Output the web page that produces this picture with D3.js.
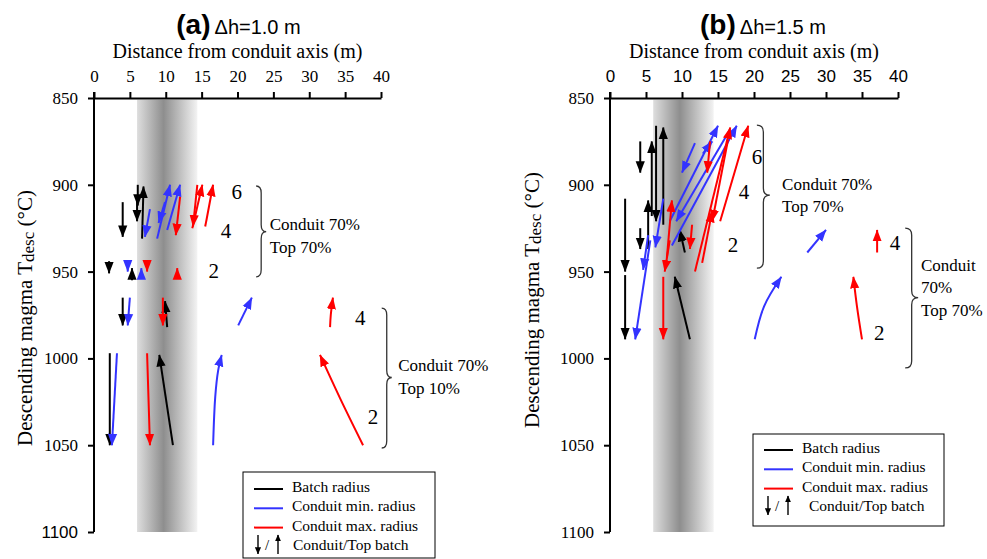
<!DOCTYPE html>
<html>
<head>
<meta charset="utf-8">
<script src="https://cdn.jsdelivr.net/npm/d3@7"></script>
<style>
  body { margin: 0; background: #fff; }
  svg { display: block; }
</style>
</head>
<body>
<div id="chart"></div>
<script>
var SERIF = '"Liberation Serif", "Times New Roman", serif';
var SANS = '"Liberation Sans", Arial, Helvetica, sans-serif';

// axis ticks
var xTicks = [0, 5, 10, 15, 20, 25, 30, 35, 40];
var yTicks = [850, 900, 950, 1000, 1050, 1100];
var conduitBand = [6, 14.4]; // shaded conduit zone (m)

// arrows, each one a list of [distance (m), T (°C)], drawn from first point to last
// panel (a) dh = 1.0 m
var batchA = [
  [[4.0, 910], [4.0, 930]],
  [[6.1, 900], [6.1, 912]],
  [[6.0, 909], [6.0, 921]],
  [[6.7, 931], [6.9, 901]],
  [[2.1, 944], [2.1, 951]],
  [[5.3, 955], [5.3, 948]],
  [[4.0, 965], [4.0, 981]],
  [[10.2, 982], [9.9, 967]],
  [[2.2, 997], [2.2, 1050]],
  [[11.0, 1050], [9.1, 998]]
];
var minA = [
  [[7.8, 914], [7.1, 930]],
  [[8.8, 931], [10.6, 900]],
  [[9.9, 910], [9.0, 922]],
  [[10.2, 926], [12.0, 900]],
  [[4.7, 944], [4.7, 950]],
  [[6.6, 954], [6.6, 948]],
  [[5.0, 965], [4.7, 981]],
  [[20.1, 981], [22.0, 965]],
  [[3.2, 997], [2.5, 1050]],
  [[16.6, 1050], [16.9, 1022], [17.3, 1007], [17.8, 998]]
];
var maxA = [
  [[12.0, 907], [11.4, 929]],
  [[14.4, 900], [13.8, 924]],
  [[13.7, 925], [15.1, 900]],
  [[15.5, 924], [16.6, 900]],
  [[7.4, 944], [7.4, 950]],
  [[11.6, 954], [11.6, 948]],
  [[9.6, 965], [9.6, 981]],
  [[32.9, 982], [33.0, 975], [33.3, 965]],
  [[7.4, 997], [7.8, 1050]],
  [[37.5, 1050], [34.3, 1023], [31.5, 998]]
];
// panel (b) dh = 1.5 m
var batchB = [
  [[4.2, 875], [4.2, 893]],
  [[5.8, 918], [5.8, 875]],
  [[7.4, 923], [7.4, 867]],
  [[6.4, 866], [6.4, 921]],
  [[2.1, 908], [2.1, 950]],
  [[2.1, 952], [2.1, 989]],
  [[4.2, 925], [4.2, 937]],
  [[5.3, 937], [5.3, 909]],
  [[11.1, 989], [9.0, 953]],
  [[10.4, 939], [9.7, 926]]
];
var minB = [
  [[11.8, 876], [10.0, 893]],
  [[8.3, 921], [15.0, 866]],
  [[8.6, 935], [17.6, 866]],
  [[16.7, 868], [9.2, 921]],
  [[12.9, 882], [14.2, 875]],
  [[7.4, 908], [6.3, 936]],
  [[5.6, 932], [3.5, 989]],
  [[5.3, 929], [4.6, 949]],
  [[20.1, 989], [21.4, 970], [23.8, 953]],
  [[27.4, 939], [30.0, 926]]
];
var maxB = [
  [[13.9, 875], [13.5, 893]],
  [[11.8, 950], [16.7, 867]],
  [[15.3, 921], [19.2, 866]],
  [[16.4, 874], [14.2, 921]],
  [[7.9, 942], [8.6, 909]],
  [[11.4, 923], [11.1, 937]],
  [[12.8, 945], [14.2, 915]],
  [[8.3, 932], [7.6, 950]],
  [[7.4, 953], [7.4, 989]],
  [[35.0, 989], [34.3, 970], [33.8, 953]],
  [[37.1, 939], [37.1, 926]]
];

// step labels [text, x, T]
var stepsA = [["6", 19.9, 904], ["4", 18.4, 926.6], ["2", 16.7, 949.6], ["4", 37.1, 976.7], ["2", 38.9, 1034]];
var stepsB = [["6", 20.4, 884], ["4", 18.6, 904], ["2", 17.1, 934.7], ["4", 39.6, 933.5], ["2", 37.4, 985.4]];
// braces [xLeft, xTip, Ttop, Tbottom, Ttip] and their case labels
var bracesA = [[22.6, 24.0, 900.7, 953, 927], [40.1, 41.5, 971, 1051.6, 1011]];
var bracesB = [[20.4, 22.2, 865.6, 948, 906], [41.0, 42.8, 925, 1005.5, 965]];
var casesA = [[["Conduit 70%", "Top 70%"], 24.5, 922.6], [["Conduit 70%", "Top 10%"], 42.4, 1004]];
var casesB = [[["Conduit 70%", "Top 70%"], 23.9, 899.5], [["Conduit", "70%", "Top 70%"], 43.2, 946]];

var legendNames = ["Batch radius", "Conduit min. radius", "Conduit max. radius"];
var colors = ["#000000", "#3333ff", "#ff0000"];

var W = 987, H = 559;
var svg = d3.select("#chart").append("svg").attr("width", W).attr("height", H);
var defs = svg.append("defs");

var grad = defs.append("linearGradient").attr("id", "band").attr("x1", "0").attr("x2", "1").attr("y1", "0").attr("y2", "0");
grad.append("stop").attr("offset", "0%").attr("stop-color", "#dedede");
grad.append("stop").attr("offset", "44%").attr("stop-color", "#8e8e8e");
grad.append("stop").attr("offset", "100%").attr("stop-color", "#f3f3f3");

colors.forEach(function (c, i) {
  defs.append("marker").attr("id", "head" + i)
    .attr("viewBox", "0 0 12 10").attr("refX", 11.5).attr("refY", 5)
    .attr("markerWidth", 12).attr("markerHeight", 10)
    .attr("markerUnits", "userSpaceOnUse").attr("orient", "auto")
    .append("path").attr("d", "M0,0.4L12,5L0,9.6Z").attr("fill", c);
});
// small head for the legend arrows
defs.append("marker").attr("id", "headSmall")
  .attr("viewBox", "0 0 8 8").attr("refX", 7.5).attr("refY", 4)
  .attr("markerWidth", 7).attr("markerHeight", 7)
  .attr("markerUnits", "userSpaceOnUse").attr("orient", "auto")
  .append("path").attr("d", "M0,0.5L8,4L0,7.5Z").attr("fill", "#000");

function txt(sel, fam, size) {
  return sel.style("font-family", fam).style("font-size", size + "px").attr("fill", "#000");
}

function panel(opt) {
  var x = d3.scaleLinear().domain([0, 40]).range(opt.xr);
  var y = d3.scaleLinear().domain([850, 1100]).range([98, 532]);
  var g = svg.append("g");

  // conduit shading
  g.append("rect").attr("x", x(conduitBand[0])).attr("y", y(851))
    .attr("width", x(conduitBand[1]) - x(conduitBand[0])).attr("height", y(1100) - y(851))
    .attr("fill", "url(#band)");

  // axes
  var ax = g.append("g").attr("transform", "translate(0," + y(850) + ")")
    .call(d3.axisTop(x).tickValues(xTicks).tickFormat(d3.format("d")).tickSize(6).tickPadding(10).tickSizeOuter(0));
  txt(ax.selectAll("text"), opt.xSans ? SANS : SERIF, 17);
  var ay = g.append("g").attr("transform", "translate(" + x(0) + ",0)")
    .call(d3.axisLeft(y).tickValues(yTicks).tickFormat(d3.format("d")).tickSize(6).tickPadding(10).tickSizeOuter(0));
  ay.selectAll("text").each(function (d) {
    txt(d3.select(this), opt.sansTick.indexOf(d) >= 0 ? SANS : SERIF, 17);
  });
  g.selectAll(".domain, .tick line").attr("stroke", "#000").attr("stroke-width", 2);
  ay.select(".domain").attr("d", "M0," + (y(850) - 6) + "V" + y(1100));

  // titles
  var t = g.append("text").attr("x", x(20) + opt.titleDx).attr("y", 34).attr("text-anchor", "middle");
  txt(t, SANS, 20);
  t.append("tspan").attr("font-weight", "bold").style("font-size", "28px").text(opt.tag);
  t.append("tspan").attr("dx", 4).text(opt.dh);
  txt(g.append("text").attr("x", x(20)).attr("y", 58).attr("text-anchor", "middle"), SERIF, 20)
    .text("Distance from conduit axis (m)");
  var yt = txt(g.append("text").attr("text-anchor", "middle")
    .attr("transform", "translate(" + (x(0) - opt.yTitleOff) + "," + opt.yTitleMid + ") rotate(-90)"), SERIF, 21);
  yt.append("tspan").text("Descending magma T");
  yt.append("tspan").style("font-size", "17px").attr("dy", 2).text("desc");
  yt.append("tspan").attr("dy", -2).text(" (°C)");

  // arrows
  var line = d3.line().x(function (d) { return x(d[0]); }).y(function (d) { return y(d[1]); })
    .curve(d3.curveCatmullRom);
  [opt.batch, opt.min, opt.max].forEach(function (set, i) {
    g.append("g").selectAll("path").data(set).enter().append("path")
      .attr("d", line).attr("fill", "none").attr("stroke", colors[i]).attr("stroke-width", 2)
      .attr("marker-end", "url(#head" + i + ")");
  });

  // step numbers
  txt(g.selectAll(".step").data(opt.steps).enter().append("text")
    .attr("x", function (d) { return x(d[1]); }).attr("y", function (d) { return y(d[2]) + 7; })
    .attr("text-anchor", "middle"), SERIF, 21).text(function (d) { return d[0]; });

  // braces
  g.selectAll(".brace").data(opt.braces).enter().append("path")
    .attr("fill", "none").attr("stroke", "#333").attr("stroke-width", 1.3)
    .attr("d", function (d) {
      var x0 = x(d[0]), x1 = x(d[1]), y0 = y(d[2]), y1 = y(d[3]), ym = y(d[4]);
      var xm = (x0 + x1) / 2, r = 7;
      return "M" + x0 + "," + y0 + "Q" + xm + "," + y0 + " " + xm + "," + (y0 + r) +
        "L" + xm + "," + (ym - r) + "Q" + xm + "," + ym + " " + x1 + "," + ym +
        "Q" + xm + "," + ym + " " + xm + "," + (ym + r) +
        "L" + xm + "," + (y1 - r) + "Q" + xm + "," + y1 + " " + x0 + "," + y1;
    });
  opt.cases.forEach(function (c) {
    var tx = txt(g.append("text"), SERIF, 17);
    c[0].forEach(function (s, i) {
      tx.append("tspan").attr("x", x(c[1])).attr("y", y(c[2]) + 6 + i * 22.5).text(s);
    });
  });

  // legend
  var L = opt.legend;
  var lg = g.append("g").attr("transform", "translate(" + L[0] + "," + L[1] + ")");
  lg.append("rect").attr("width", L[2]).attr("height", L[3])
    .attr("fill", "#fff").attr("stroke", "#000").attr("stroke-width", 1);
  legendNames.forEach(function (n, i) {
    lg.append("line").attr("x1", 11).attr("x2", 40).attr("y1", L[5] - 3 + i * 19.3).attr("y2", L[5] - 3 + i * 19.3)
      .attr("stroke", colors[i]).attr("stroke-width", 2);
    txt(lg.append("text").attr("x", 49).attr("y", L[5] + i * 19.3), SERIF, 15.5).text(n);
  });
  var ly = L[5] + 3 * 19.3;
  // down / up glyph
  lg.append("line").attr("x1", 15).attr("x2", 15).attr("y1", ly - 15).attr("y2", ly + 4)
    .attr("stroke", "#000").attr("stroke-width", 1.4).attr("marker-end", "url(#headSmall)");
  txt(lg.append("text").attr("x", 22).attr("y", ly), SERIF, 15).text("/");
  lg.append("line").attr("x1", 35).attr("x2", 35).attr("y1", ly + 4).attr("y2", ly - 15)
    .attr("stroke", "#000").attr("stroke-width", 1.4).attr("marker-end", "url(#headSmall)");
  txt(lg.append("text").attr("x", L[4]).attr("y", ly), SERIF, 15.5).text("Conduit/Top batch");
}

panel({
  xr: [94, 381], tag: "(a)", dh: "Δh=1.0 m", titleDx: 1, xSans: false, sansTick: [1100],
  yTitleOff: 62, yTitleMid: 318,
  batch: batchA, min: minA, max: maxA, steps: stepsA, braces: bracesA, cases: casesA,
  legend: [243, 472, 192, 86, 50, 20]
});
panel({
  xr: [610, 898], tag: "(b)", dh: "Δh=1.5 m", titleDx: 9, xSans: true, sansTick: [],
  yTitleOff: 71, yTitleMid: 300,
  batch: batchB, min: minB, max: maxB, steps: stepsB, braces: bracesB, cases: casesB,
  legend: [753, 434, 191, 92, 56, 19]
});
</script>
</body>
</html>
